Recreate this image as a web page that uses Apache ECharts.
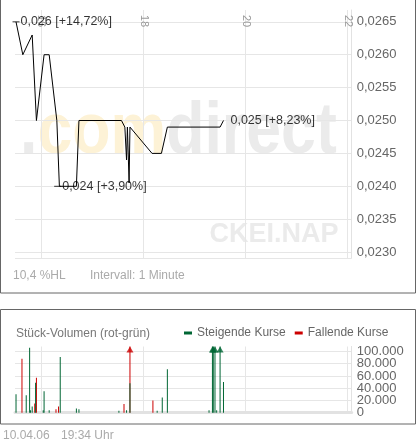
<!DOCTYPE html>
<html><head><meta charset="utf-8">
<script src="https://cdn.jsdelivr.net/npm/echarts@6/dist/echarts.min.js"></script>
<style>html,body{margin:0;padding:0;background:#fff}#c{width:417px;height:443px}</style>
</head><body><div id="c"></div>
<script>
// ---- data ----
const priceTimes = ["15:30","15:38","15:49","15:54","16:03","16:09","16:18","16:21","16:41","16:44","17:34","17:38","17:40","17:41","17:43","17:44","18:10","18:21","18:28","19:30","19:34"];
const prices     = [0.0265,0.0260,0.0263,0.0250,0.0260,0.0260,0.0250,0.0240,0.0240,0.0250,0.0250,0.0249,0.0244,0.0249,0.02405,0.0249,0.0245,0.0245,0.0249,0.0249,0.0250];
const prevClose = 0.0231;

const riseTimes   = ["15:30","15:42","15:46","15:47","15:49","15:53","16:02","16:03","16:09","16:22","16:41","16:44","17:31","17:40","17:44","18:16","18:22","18:28","19:17","19:21","19:22","19:24","19:26","19:30","19:34"];
const riseVolumes = [30000,28500,106000,4000,10000,49000,4000,35000,4000,91000,7000,5500,3000,4000,48000,3000,25000,71000,4000,160000,160000,160000,4000,160000,50000];
const fallTimes   = ["15:37","15:52","15:54","16:17","16:20","17:37","17:44","18:11"];
const fallVolumes = [88000,15000,57000,5500,10000,14000,160000,20000];

const markTimes  = ["15:30","16:19","19:34"];
const markPrices = [0.0265,0.0240,0.0250];
const markLabels = ["0,026 [+14,72%]","0,024 [+3,90%]","0,025 [+8,23%]"];

const volumeMax = 108000;

// ---- helpers ----
const toH = t => { const [h,m] = t.split(":").map(Number); return h + m/60; };
const pricePts = priceTimes.map((t,i) => [toH(t), prices[i]]);
const risePts = riseTimes.map((t,i) => [toH(t), riseVolumes[i]]);
const fallPts = fallTimes.map((t,i) => [toH(t), fallVolumes[i]]);
const riseArrows = risePts.filter(p => p[1] > volumeMax).map(p => [p[0], volumeMax]);
const fallArrows = fallPts.filter(p => p[1] > volumeMax).map(p => [p[0], volumeMax]);
const dots = v => String(v).replace(/\B(?=(\d{3})+(?!\d))/g, ".");

const FONT = "Liberation Sans, Arial, sans-serif";
const GREEN = "#006634", RED = "#cc0000";

const chart = echarts.init(document.getElementById("c"), null, {renderer:"canvas"});
chart.setOption({
  animation:false,
  textStyle:{fontFamily:FONT},
  grid:[
    {left:15, top:10, width:336.7, height:248},
    {left:15, top:346.5, width:336.7, height:66.2}
  ],
  xAxis:[
    {type:"value", gridIndex:0, min:15.48, max:22.08, splitNumber:3, position:"top",
     axisLine:{show:false}, axisTick:{show:false},
     axisLabel:{inside:true, rotate:90, margin:5, showMinLabel:false, showMaxLabel:false,
       color:"#999", fontSize:11, padding:[9,0,0,0], formatter:v=>String(v)},
     splitLine:{show:true, showMinLine:false, showMaxLine:true, lineStyle:{color:"#e6e6e6"}}},
    {type:"value", gridIndex:1, min:15.48, max:22.08, splitNumber:3,
     axisLine:{show:true, lineStyle:{color:"#e2e2e2", width:3}}, axisTick:{show:false},
     axisLabel:{show:false},
     splitLine:{show:true, showMinLine:false, showMaxLine:true, lineStyle:{color:"#e6e6e6"}}}
  ],
  yAxis:[
    {type:"value", gridIndex:0, position:"right", min:0.02291, max:0.02668, splitNumber:8,
     axisLine:{show:true, lineStyle:{color:"#e2e2e2"}}, axisTick:{show:false},
     axisLabel:{showMinLabel:false, showMaxLabel:false, color:"#666", fontSize:13, margin:5,
       formatter:v=>v.toFixed(4).replace(".", ",")},
     splitLine:{show:true, showMinLine:true, showMaxLine:false, lineStyle:{color:"#e6e6e6"}}},
    {type:"value", gridIndex:1, position:"right", min:0, max:volumeMax, interval:20000,
     axisLine:{show:true, lineStyle:{color:"#e2e2e2"}}, axisTick:{show:false},
     axisLabel:{showMinLabel:false, showMaxLabel:false, color:"#666", fontSize:13, margin:5, formatter:v=>dots(v)},
     splitLine:{show:true, showMinLine:false, showMaxLine:false, lineStyle:{color:"#e6e6e6"}}},
    {type:"value", gridIndex:1, position:"right", offset:0, min:0, max:volumeMax, interval:20000,
     axisLine:{show:false}, axisTick:{show:false}, splitLine:{show:false},
     axisLabel:{showMinLabel:true, showMaxLabel:false, color:"#666", fontSize:13, margin:5,
       formatter:v=> v === 0 ? dots(v) : ""}}
  ],
  legend:{data:["Steigende Kurse","Fallende Kurse"], left:184, top:327, padding:0,
    itemWidth:8, itemHeight:3, itemGap:9, icon:"rect",
    textStyle:{color:"#666", fontSize:12, fontFamily:FONT}},
  series:[
    {name:"Kurs", type:"line", xAxisIndex:0, yAxisIndex:0, data:pricePts, showSymbol:false, z:4,
     lineStyle:{color:"#000", width:1}, itemStyle:{color:"#000"},
     markLine:{silent:true, symbol:"none", label:{show:false}, z:3,
       lineStyle:{color:"#f2c200", width:1, type:"solid"}, data:[{yAxis:prevClose}]}},
    {name:"Marken", type:"scatter", xAxisIndex:0, yAxisIndex:0, z:5, silent:true,
     data: markTimes.map((t,i) => ({
       value:[toH(t), markPrices[i]],
       symbol:"rect", symbolSize: i < 2 ? [7,1] : 0,
       label:{show:true, position:"right", distance: i < 2 ? 1 : 7, formatter:markLabels[i],
              color:"#000", fontSize:12.5, fontFamily:FONT}
     })),
     itemStyle:{color:"#000"}},
    {name:"Fallende Kurse", type:"bar", xAxisIndex:1, yAxisIndex:1, data:fallPts, barWidth:1, barGap:"-100%",
     clip:true, itemStyle:{color:RED}, z:2},
    {name:"Steigende Kurse", type:"bar", xAxisIndex:1, yAxisIndex:1, data:risePts, barWidth:1, barGap:"-100%",
     clip:true, itemStyle:{color:GREEN}, z:3},
    {name:"fallArrow", type:"scatter", xAxisIndex:1, yAxisIndex:1, data:fallArrows, symbol:"triangle",
     symbolSize:[7,6], symbolOffset:[0,3], itemStyle:{color:RED}, z:4, clip:false},
    {name:"riseArrow", type:"scatter", xAxisIndex:1, yAxisIndex:1, data:riseArrows, symbol:"triangle",
     symbolSize:[7,6], symbolOffset:[0,3], itemStyle:{color:GREEN}, z:4, clip:false}
  ],
  graphic:[
    {type:"text", x:20, y:133, scaleX:0.87, z:-10, silent:true,
     style:{text:"{g|.}{y|com}{g|direct}", verticalAlign:"middle", align:"left",
       rich:{g:{fill:"#ebebeb", font:"bold 72px Liberation Sans"}, y:{fill:"#fdf2d6", font:"bold 72px Liberation Sans"}}}},
    {type:"text", x:274, y:235, z:-10, silent:true,
     style:{text:"CKEI.NAP", fill:"#ebebeb", font:"bold 27px Liberation Sans", align:"center", verticalAlign:"middle"}},
    {type:"text", x:13, y:276, silent:true,
     style:{text:"10,4 %HL", fill:"#aaa", font:"12px Liberation Sans", verticalAlign:"middle"}},
    {type:"text", x:90, y:276, silent:true,
     style:{text:"Intervall: 1 Minute", fill:"#aaa", font:"12px Liberation Sans", verticalAlign:"middle"}},
    {type:"text", x:16, y:333.5, silent:true,
     style:{text:"Stück-Volumen (rot-grün)", fill:"#777", font:"12px Liberation Sans", verticalAlign:"middle"}},
    {type:"text", x:3, y:436, silent:true,
     style:{text:"10.04.06", fill:"#aaa", font:"12px Liberation Sans", verticalAlign:"middle"}},
    {type:"text", x:61, y:436, silent:true,
     style:{text:"19:34 Uhr", fill:"#aaa", font:"12px Liberation Sans", verticalAlign:"middle"}},
    {type:"rect", silent:true, shape:{x:0.5, y:-5, width:415, height:298}, style:{fill:null, stroke:"#666", lineWidth:1}},
    {type:"rect", silent:true, shape:{x:0.5, y:309.5, width:415, height:114.5}, style:{fill:null, stroke:"#666", lineWidth:1}}
  ]
});
</script></body></html>
